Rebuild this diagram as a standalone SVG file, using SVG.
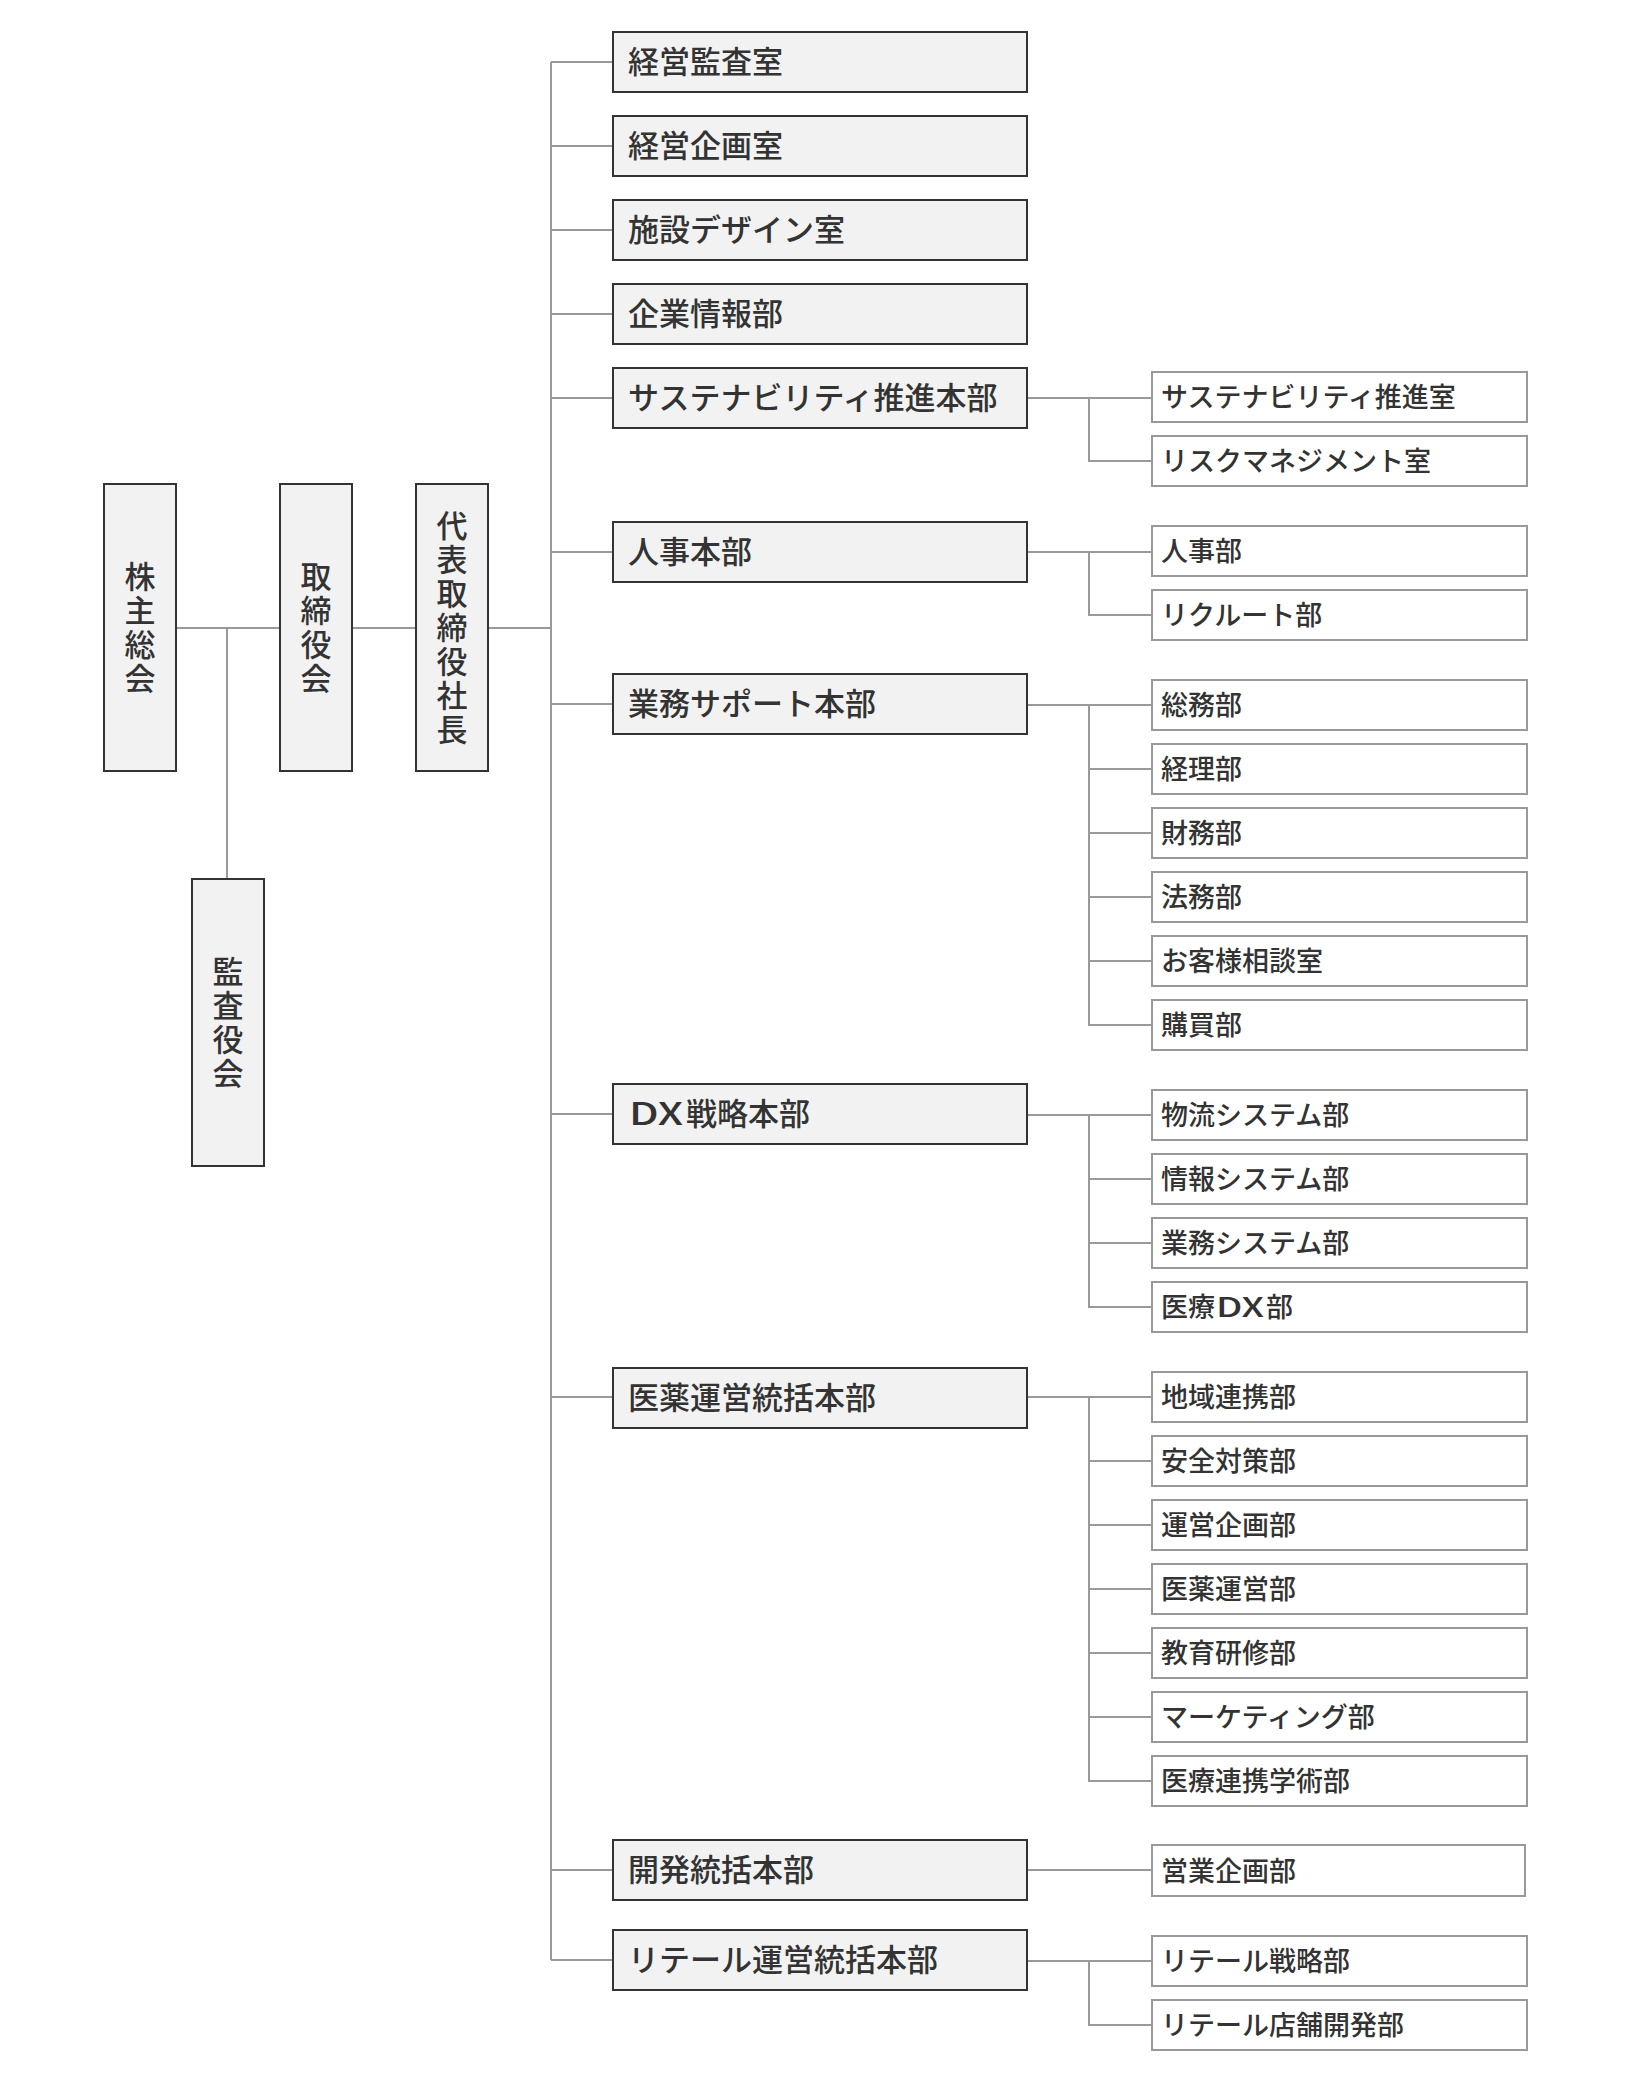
<svg xmlns="http://www.w3.org/2000/svg" width="1626" height="2082" viewBox="0 0 1626 2082">
<style>
.p{fill:#f2f2f2;stroke:#333;stroke-width:2}
.c{fill:#fff;stroke:#999;stroke-width:2}
.t{font-family:"Noto Sans CJK JP","Noto Sans",sans-serif;fill:#333;font-weight:500}
.tp{font-size:31px}
.tc{font-size:27px}
.tv{font-size:31px;text-anchor:middle;writing-mode:vertical-rl;letter-spacing:3px}
.ln{fill:none;stroke:#999;stroke-width:2}
</style>
<rect width="1626" height="2082" fill="#fff"/>
<g id="connectors" class="ln">
<path d="M177 628H279M353 628H415M489 628H551M227 628V878"/>
<path d="M551 62V1960"/>
<path d="M551 62H612M551 146H612M551 230H612M551 314H612M551 398H612M551 552H612M551 704H612M551 1114H612M551 1397H612M551 1870H612M551 1960H612"/>
<path d="M1028 398H1152M1089 398V461H1152"/>
<path d="M1028 552H1152M1089 552V615H1152"/>
<path d="M1028 705H1152M1089 705V1025H1152M1089 769H1152M1089 833H1152M1089 897H1152M1089 961H1152"/>
<path d="M1028 1115H1152M1089 1115V1307H1152M1089 1179H1152M1089 1243H1152"/>
<path d="M1028 1397H1152M1089 1397V1781H1152M1089 1461H1152M1089 1525H1152M1089 1589H1152M1089 1653H1152M1089 1717H1152"/>
<path d="M1028 1870H1152"/>
<path d="M1028 1961H1152M1089 1961V2025H1152"/>
</g>
<g id="n-kabunushi"><rect class="p" x="104" y="484" width="72" height="287"/><text class="t tv" x="140" y="629">株主総会</text></g>
<g id="n-torishimariyakukai"><rect class="p" x="280" y="484" width="72" height="287"/><text class="t tv" x="316" y="629">取締役会</text></g>
<g id="n-shacho"><rect class="p" x="416" y="484" width="72" height="287"/><text class="t tv" x="452" y="629">代表取締役社長</text></g>
<g id="n-kansayakukai"><rect class="p" x="192" y="879" width="72" height="287"/><text class="t tv" x="228" y="1024">監査役会</text></g>
<g id="n-p1"><rect class="p" x="613" y="32" width="414" height="60"/><text class="t tp" x="628" y="73">経営監査室</text></g>
<g id="n-p2"><rect class="p" x="613" y="116" width="414" height="60"/><text class="t tp" x="628" y="157">経営企画室</text></g>
<g id="n-p3"><rect class="p" x="613" y="200" width="414" height="60"/><text class="t tp" x="628" y="241">施設デザイン室</text></g>
<g id="n-p4"><rect class="p" x="613" y="284" width="414" height="60"/><text class="t tp" x="628" y="325">企業情報部</text></g>
<g id="n-p5"><rect class="p" x="613" y="368" width="414" height="60"/><text class="t tp" x="628" y="409">サステナビリティ推進本部</text></g>
<g id="n-p6"><rect class="p" x="613" y="522" width="414" height="60"/><text class="t tp" x="628" y="563">人事本部</text></g>
<g id="n-p7"><rect class="p" x="613" y="674" width="414" height="60"/><text class="t tp" x="628" y="715">業務サポート本部</text></g>
<g id="n-p8"><rect class="p" x="613" y="1084" width="414" height="60"/><text class="t tp" x="629" y="1125" textLength="54" lengthAdjust="spacingAndGlyphs">DX</text><text class="t tp" x="686" y="1125">戦略本部</text></g>
<g id="n-p9"><rect class="p" x="613" y="1368" width="414" height="60"/><text class="t tp" x="628" y="1409">医薬運営統括本部</text></g>
<g id="n-p10"><rect class="p" x="613" y="1840" width="414" height="60"/><text class="t tp" x="628" y="1881">開発統括本部</text></g>
<g id="n-p11"><rect class="p" x="613" y="1930" width="414" height="60"/><text class="t tp" x="628" y="1971">リテール運営統括本部</text></g>
<g id="n-c1"><rect class="c" x="1152" y="372" width="375" height="50"/><text class="t tc" x="1161" y="407">サステナビリティ推進室</text></g>
<g id="n-c2"><rect class="c" x="1152" y="436" width="375" height="50"/><text class="t tc" x="1161" y="471">リスクマネジメント室</text></g>
<g id="n-c3"><rect class="c" x="1152" y="526" width="375" height="50"/><text class="t tc" x="1161" y="561">人事部</text></g>
<g id="n-c4"><rect class="c" x="1152" y="590" width="375" height="50"/><text class="t tc" x="1161" y="625">リクルート部</text></g>
<g id="n-c5"><rect class="c" x="1152" y="680" width="375" height="50"/><text class="t tc" x="1161" y="715">総務部</text></g>
<g id="n-c6"><rect class="c" x="1152" y="744" width="375" height="50"/><text class="t tc" x="1161" y="779">経理部</text></g>
<g id="n-c7"><rect class="c" x="1152" y="808" width="375" height="50"/><text class="t tc" x="1161" y="843">財務部</text></g>
<g id="n-c8"><rect class="c" x="1152" y="872" width="375" height="50"/><text class="t tc" x="1161" y="907">法務部</text></g>
<g id="n-c9"><rect class="c" x="1152" y="936" width="375" height="50"/><text class="t tc" x="1161" y="971">お客様相談室</text></g>
<g id="n-c10"><rect class="c" x="1152" y="1000" width="375" height="50"/><text class="t tc" x="1161" y="1035">購買部</text></g>
<g id="n-c11"><rect class="c" x="1152" y="1090" width="375" height="50"/><text class="t tc" x="1161" y="1125">物流システム部</text></g>
<g id="n-c12"><rect class="c" x="1152" y="1154" width="375" height="50"/><text class="t tc" x="1161" y="1189">情報システム部</text></g>
<g id="n-c13"><rect class="c" x="1152" y="1218" width="375" height="50"/><text class="t tc" x="1161" y="1253">業務システム部</text></g>
<g id="n-c14"><rect class="c" x="1152" y="1282" width="375" height="50"/><text class="t tc" x="1161" y="1317">医療</text><text class="t tc" x="1216" y="1317" textLength="48" lengthAdjust="spacingAndGlyphs">DX</text><text class="t tc" x="1266" y="1317">部</text></g>
<g id="n-c15"><rect class="c" x="1152" y="1372" width="375" height="50"/><text class="t tc" x="1161" y="1407">地域連携部</text></g>
<g id="n-c16"><rect class="c" x="1152" y="1436" width="375" height="50"/><text class="t tc" x="1161" y="1471">安全対策部</text></g>
<g id="n-c17"><rect class="c" x="1152" y="1500" width="375" height="50"/><text class="t tc" x="1161" y="1535">運営企画部</text></g>
<g id="n-c18"><rect class="c" x="1152" y="1564" width="375" height="50"/><text class="t tc" x="1161" y="1599">医薬運営部</text></g>
<g id="n-c19"><rect class="c" x="1152" y="1628" width="375" height="50"/><text class="t tc" x="1161" y="1663">教育研修部</text></g>
<g id="n-c20"><rect class="c" x="1152" y="1692" width="375" height="50"/><text class="t tc" x="1161" y="1727">マーケティング部</text></g>
<g id="n-c21"><rect class="c" x="1152" y="1756" width="375" height="50"/><text class="t tc" x="1161" y="1791">医療連携学術部</text></g>
<g id="n-c22"><rect class="c" x="1152" y="1845" width="373" height="51"/><text class="t tc" x="1161" y="1881">営業企画部</text></g>
<g id="n-c23"><rect class="c" x="1152" y="1936" width="375" height="50"/><text class="t tc" x="1161" y="1971">リテール戦略部</text></g>
<g id="n-c24"><rect class="c" x="1152" y="2000" width="375" height="50"/><text class="t tc" x="1161" y="2035">リテール店舗開発部</text></g>
</svg>
